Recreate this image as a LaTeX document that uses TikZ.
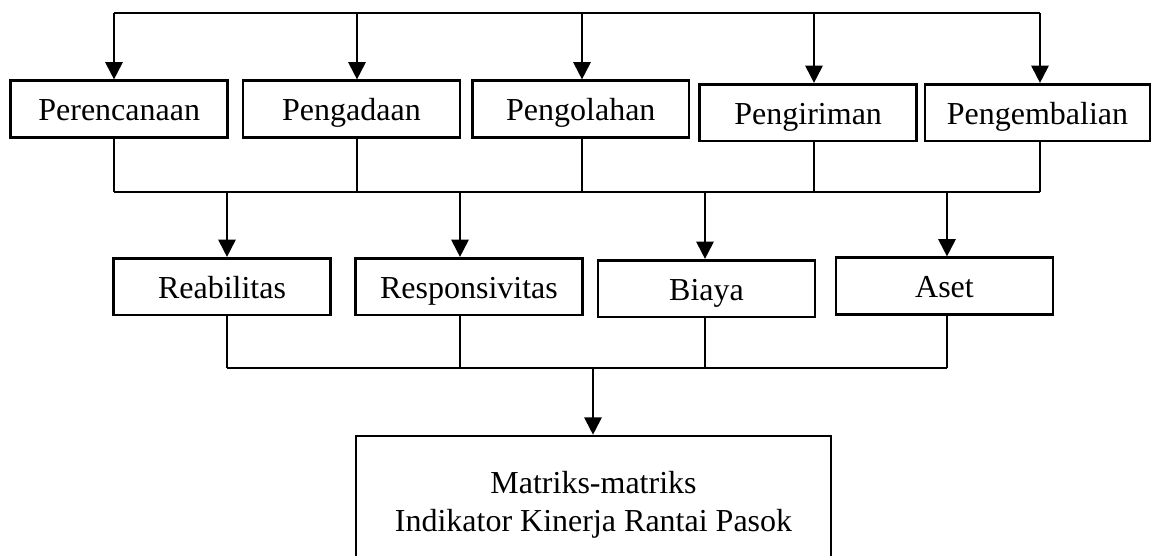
\documentclass[tikz,border=0pt]{standalone}
\usepackage{fontspec}
\setmainfont{Liberation Serif}
\usetikzlibrary{arrows.meta}
\begin{document}
\begin{tikzpicture}[x=0.375pt,y=-0.375pt,
  boxbase/.style={draw,line width=0.95pt,inner sep=0pt,font=\fontsize{12}{14.4}\selectfont},
  box/.style={boxbase,minimum height=21.2pt,text height=8.7pt,text depth=0pt},
  thinline/.style={line width=0.45pt},
  arr/.style={line width=1pt,-{Triangle[length=6.5pt,width=6.4pt]}}]
\useasboundingbox (0,0) rectangle (1155,555);
\clip (0,0) rectangle (1155,555);
% row 1
\node[box,minimum width=81.4pt] (per) at (119.2,109) {Perencanaan};
\node[box,minimum width=81.4pt] (pga) at (351.5,109) {Pengadaan};
\node[box,minimum width=81.2pt] (pgo) at (580.8,109) {Pengolahan};
\node[box,minimum width=81.4pt] (pgr) at (808.2,112.5) {Pengiriman};
\node[box,minimum width=84.4pt] (pgb) at (1037.5,112.5) {Pengembalian};
% row 2
\node[box,minimum width=81.5pt] (rea) at (222,286.5) {Reabilitas};
\node[box,minimum width=85pt] (res) at (469,286.5) {Responsivitas};
\node[box,minimum width=81.4pt] (bia) at (706.5,288.5) {Biaya};
\node[box,minimum width=81.4pt] (aset) at (944.5,286) {Aset};
% bottom
\node[boxbase,align=center,minimum width=178.1pt,minimum height=51.75pt] (mat) at (593.5,505)
  {Matriks-matriks\\Indikator Kinerja Rantai Pasok};
% top bus
\coordinate (t1) at (114,13);
\coordinate (t2) at (357,13);
\coordinate (t3) at (582,13);
\coordinate (t4) at (814,13);
\coordinate (t5) at (1040,13);
\draw[line width=0.55pt] (t1) -- (t5);
\draw[arr] (t1) -- (t1 |- per.north);
\draw[arr] (t2) -- (t2 |- pga.north);
\draw[arr] (t3) -- (t3 |- pgo.north);
\draw[arr] (t4) -- (t4 |- pgr.north);
\draw[arr] (t5) -- (t5 |- pgb.north);
% middle bus
\coordinate (m1) at (114,192);
\coordinate (m2) at (357,192);
\coordinate (m3) at (582,192);
\coordinate (m4) at (814,192);
\coordinate (m5) at (1040,192);
\draw[thinline] (m1 |- per.south) -- (m1);
\draw[thinline] (m2 |- pga.south) -- (m2);
\draw[thinline] (m3 |- pgo.south) -- (m3);
\draw[thinline] (m4 |- pgr.south) -- (m4);
\draw[thinline] (m5 |- pgb.south) -- (m5);
\draw[thinline] (m1) -- (m5);
\coordinate (n1) at (227,192);
\coordinate (n2) at (460,192);
\coordinate (n3) at (705,192);
\coordinate (n4) at (947,192);
\draw[arr] (n1) -- (n1 |- rea.north);
\draw[arr] (n2) -- (n2 |- res.north);
\draw[arr] (n3) -- (n3 |- bia.north);
\draw[arr] (n4) -- (n4 |- aset.north);
% lower bus
\coordinate (b1) at (227,368);
\coordinate (b2) at (460,368);
\coordinate (b3) at (705,368);
\coordinate (b4) at (947,368);
\draw[thinline] (b1 |- rea.south) -- (b1);
\draw[thinline] (b2 |- res.south) -- (b2);
\draw[thinline] (b3 |- bia.south) -- (b3);
\draw[thinline] (b4 |- aset.south) -- (b4);
\draw[thinline] (b1) -- (b4);
\coordinate (b0) at (593,368);
\draw[arr] (b0) -- (b0 |- mat.north);
\end{tikzpicture}
\end{document}
